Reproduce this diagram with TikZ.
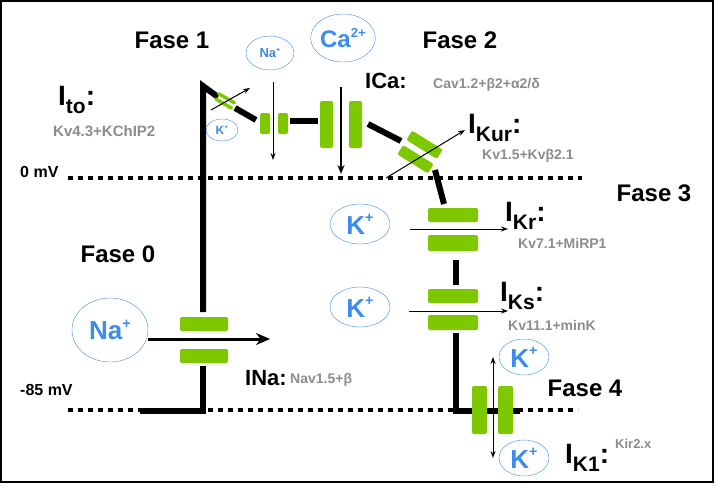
\documentclass[tikz,border=0pt]{standalone}
\usepackage{fontspec}
\setmainfont{Liberation Sans}
\usetikzlibrary{arrows.meta,shapes.geometric}
\definecolor{grn}{RGB}{125,200,0}
\definecolor{ionb}{RGB}{60,140,240}
\definecolor{gtxt}{RGB}{140,140,140}
\newcommand\Isb[1]{I\raisebox{-0.3em}{\fontsize{21}{21}\selectfont #1}:}
\newcommand\sps[1]{\raisebox{0.45em}{\fontsize{0.55em}{0.55em}\selectfont #1}}
\tikzset{
 trace/.style={line width=6pt,black},
 dots/.style={line width=4pt,dash pattern=on 5pt off 5pt},
 bar/.style={fill=grn,rounded corners=2pt,draw=none},
 ion/.style={draw=ionb,ellipse,text=ionb,font=\bfseries,inner sep=0pt},
 fase/.style={font=\bfseries\fontsize{24}{24}\selectfont},
 cur/.style={font=\bfseries\fontsize{28}{28}\selectfont,anchor=west,inner sep=0pt},
 sub/.style={text=gtxt,font=\bfseries\fontsize{14}{14}\selectfont,anchor=west,inner sep=0pt},
 thin/.style={-{Stealth[length=7pt,width=5pt]},line width=1pt},
}
\begin{document}
\begin{tikzpicture}[x=1pt,y=-1pt]
\useasboundingbox (0,0) rectangle (720,485);
\draw[line width=1.5pt] (1,1) rectangle (713,482);
% dotted lines
\draw[dots] (68,178) -- (582,178);
\draw[dots] (68,410) -- (578,410);
\node[font=\bfseries\fontsize{16}{16}\selectfont,anchor=west,inner sep=0pt] (z) at (20,172) {0 mV};
\node[font=\bfseries\fontsize{16}{16}\selectfont,anchor=west,inner sep=0pt] (m) at (20,390) {-85 mV};
% trace
\draw[trace] (140,411) -- (203,411) -- (203,366);
\draw[trace] (203,312) -- (203,86) -- (218,97);
\draw[trace] (235,108) -- (256,120);
\draw[trace] (290,121) -- (318,121);
\draw[trace] (368,124) -- (401,141);
\draw[trace] (435,170) -- (444,204);
\draw[trace] (456,260) -- (456,285);
\draw[trace] (456,333) -- (456,411) -- (520,411);
% INa channel
\fill[bar] (180,317) rectangle (228,331);
\fill[bar] (180,349) rectangle (228,363);
\draw[line width=3pt,-{Stealth[length=14pt,width=12pt]}] (148,339) -- (270,339);
% Ito small channel
\fill[bar,rotate around={-30:(225,100)}] (215,96) rectangle (236,99.5);
\fill[bar,rotate around={-30:(225,100)}] (215,102) rectangle (236,105.5);
\draw[thin] (211,110) -- (250,88);
% Na channel
\fill[bar] (260,113) rectangle (270,134);
\fill[bar] (278,113) rectangle (288,134);
\draw[thin] (273,82) -- (273,160);
% Ca channel
\fill[bar] (320,101) rectangle (333,148);
\fill[bar] (349,101) rectangle (362,148);
\draw[line width=1.6pt,-{Stealth[length=9pt,width=7pt]}] (341,87) -- (341,174);
% Kur channel
\fill[bar,rotate around={-32:(420,152)}] (402,138) rectangle (438,149);
\fill[bar,rotate around={-32:(420,152)}] (402,155) rectangle (438,166);
\draw[thin] (386,178) -- (465,130);
% Kr channel
\fill[bar] (428,208) rectangle (478,222);
\fill[bar] (428,235) rectangle (478,251);
\draw[thin] (410,229) -- (508,229);
% Ks channel
\fill[bar] (428,289) rectangle (478,303);
\fill[bar] (428,315) rectangle (478,330);
\draw[thin] (409,311) -- (508,311);
% K1 channel
\fill[bar] (472,386) rectangle (487,434);
\fill[bar] (498,386) rectangle (513,434);
\draw[line width=1pt,{Stealth[length=7pt,width=5pt]}-{Stealth[length=7pt,width=5pt]}] (493,357) -- (493,458);
% ions
\node[ion,minimum width=76pt,minimum height=64pt,font=\bfseries\fontsize{26}{26}\selectfont] (na0) at (110,330) {Na\sps{+}};
\node[ion,minimum width=48pt,minimum height=34pt,font=\bfseries\fontsize{13}{13}\selectfont] (na1) at (270,53) {Na\sps{+}};
\node[ion,minimum width=64pt,minimum height=48pt,font=\bfseries\fontsize{24}{24}\selectfont] (ca) at (343,38) {Ca\sps{2+}};
\node[ion,minimum width=32pt,minimum height=22pt,font=\bfseries\fontsize{12}{12}\selectfont] (k0) at (222,130) {K\sps{+}};
\node[ion,minimum width=60pt,minimum height=40pt,font=\bfseries\fontsize{26}{26}\selectfont] (k1) at (360,224) {K\sps{+}};
\node[ion,minimum width=60pt,minimum height=40pt,font=\bfseries\fontsize{26}{26}\selectfont] (k2) at (360,307) {K\sps{+}};
\node[ion,minimum width=50pt,minimum height=36pt,font=\bfseries\fontsize{26}{26}\selectfont] (k3) at (524,357) {K\sps{+}};
\node[ion,minimum width=50pt,minimum height=36pt,font=\bfseries\fontsize{26}{26}\selectfont] (k4) at (524,458) {K\sps{+}};
% phases
\node[fase] (f1) at (172,40) {Fase 1};
\node[fase] (f2) at (460,40) {Fase 2};
\node[fase] (f3) at (654,193) {Fase 3};
\node[fase] (f0) at (118,254) {Fase 0};
\node[fase] (f4) at (585,388) {Fase 4};
% currents
\node[cur] (ito) at (58,100) {\Isb{to}};
\node[sub,font=\bfseries\fontsize{15}{15}\selectfont] (itos) at (53,131) {Kv4.3+KChIP2};
\node[cur,font=\bfseries\fontsize{22}{22}\selectfont] (ica) at (365,81) {ICa:};
\node[sub] (icas) at (433,85) {Cav1.2+β2+α2/δ};
\node[cur] (ikur) at (468,128) {\Isb{Kur}};
\node[sub] (ikurs) at (482,156) {Kv1.5+Kvβ2.1};
\node[cur] (ikr) at (505,216) {\Isb{Kr}};
\node[sub] (ikrs) at (518,243) {Kv7.1+MiRP1};
\node[cur] (iks) at (500,296) {\Isb{Ks}};
\node[sub] (ikss) at (508,325) {Kv11.1+minK};
\node[cur,font=\bfseries\fontsize{22}{22}\selectfont] (ina) at (245,378) {INa:};
\node[sub] (inas) at (290,380) {Nav1.5+β};
\node[cur] (ik1) at (565,458) {\Isb{K1}};
\node[sub,font=\bfseries\fontsize{13}{13}\selectfont] (ik1s) at (615,444) {Kir2.x};
\end{tikzpicture}
\end{document}
